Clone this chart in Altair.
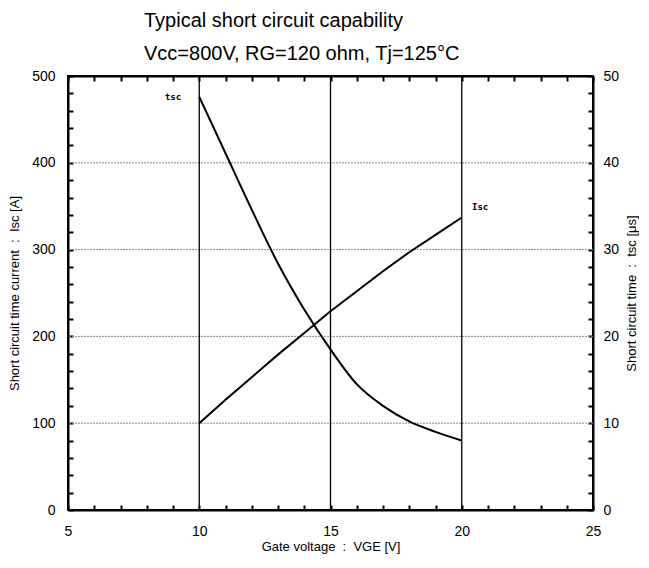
import altair as alt
import pandas as pd

# ---- data ----
vge = [10, 11, 12, 13, 14, 15, 16, 17, 18, 19, 20]
isc_a = [100, 127, 153, 179, 204, 229, 252, 275, 297, 317, 337]
tsc_us = [47.6, 41.1, 34.6, 28.4, 23.1, 18.5, 14.5, 12.0, 10.2, 9.0, 8.0]

curve_labels = ["tsc", "Isc"]
curve_label_x = [9.0, 20.7]
curve_label_y = [476, 349]

grid_x = [10, 15, 20]
grid_y = [100, 200, 300, 400]

x_ticks = list(range(5, 26))
y_left_ticks = list(range(0, 501, 20))
y_right_ticks = list(range(0, 51, 2))

FONT = "Liberation Sans"
NB = "\u00a0"
W, H = 525, 434

df_isc = pd.DataFrame({"v": vge, "i": isc_a})
df_tsc = pd.DataFrame({"v": vge, "t": tsc_us})
df_lab = pd.DataFrame({"lab": curve_labels, "x": curve_label_x, "y": curve_label_y})
df_gx = pd.DataFrame({"gx": grid_x})
df_gy = pd.DataFrame({"gy": grid_y})

xs = alt.Scale(domain=[5, 25], nice=False, zero=False)
ys_left = alt.Scale(domain=[0, 500], nice=False)
ys_right = alt.Scale(domain=[0, 50], nice=False)

common_axis = dict(
    offset=-5, tickSize=5, tickWidth=2, tickColor="black", domain=False, grid=False,
    labelFont=FONT, labelFontSize=14, labelColor="black", labelFlush=False,
    labelOverlap=False, labelBound=False,
    titleFont=FONT, titleFontSize=13, titleFontWeight="normal", titleColor="black",
)


def frame_axis(orient):
    # axis used only to draw one side of the black frame
    return alt.Axis(orient=orient, domain=True, domainColor="black", domainWidth=2,
                    ticks=False, labels=False, grid=False, title=None)


x_bottom = alt.Axis(
    values=x_ticks, orient="bottom", labelExpr="datum.value % 5 == 0 ? datum.label : ''",
    labelPadding=14, title=f"Gate voltage{NB}{NB}:{NB}{NB}VGE [V]", titlePadding=2,
    **common_axis
)
x_top = alt.Axis(
    values=x_ticks, orient="top", labels=False, title=None,
    offset=-5, tickSize=5, tickWidth=2, tickColor="black", domain=False, grid=False,
)
y_left = alt.Axis(
    values=y_left_ticks, orient="left", labelExpr="datum.value % 100 == 0 ? datum.label : ''",
    labelPadding=13, title=f"Short circuit time current{NB}{NB}:{NB}{NB}Isc [A]",
    titlePadding=10, **common_axis
)
y_right = alt.Axis(
    values=y_right_ticks, orient="right", labelExpr="datum.value % 10 == 0 ? datum.label : ''",
    labelPadding=10, title=f"Short circuit time{NB}{NB}:{NB}{NB}tsc [μs]", titlePadding=7,
    titleAngle=270, titleBaseline="top", **common_axis
)

hgrid = alt.Chart(df_gy).mark_rule(color="#8a8a8a", strokeWidth=1, strokeDash=[2, 1]).encode(
    y=alt.Y("gy:Q", scale=ys_left, axis=frame_axis("left"))
)
vgrid = alt.Chart(df_gx).mark_rule(color="black", strokeWidth=1.3).encode(
    x=alt.X("gx:Q", scale=xs, axis=frame_axis("bottom"))
)
isc_line = alt.Chart(df_isc).mark_line(color="black", strokeWidth=2).encode(
    x=alt.X("v:Q", scale=xs, axis=x_bottom),
    y=alt.Y("i:Q", scale=ys_left, axis=y_left),
)
texts = alt.Chart(df_lab).mark_text(
    font="DejaVu Sans Mono", fontSize=9, fontWeight="bold", color="black"
).encode(
    x=alt.X("x:Q", scale=xs, axis=frame_axis("top")),
    y=alt.Y("y:Q", scale=ys_left, axis=frame_axis("right")),
    text="lab:N",
)
tsc_line = alt.Chart(df_tsc).mark_line(color="black", strokeWidth=2, interpolate="monotone").encode(
    x=alt.X("v:Q", scale=xs, axis=x_top),
    y=alt.Y("t:Q", scale=ys_right, axis=y_right),
)

chart = alt.layer(hgrid, vgrid, isc_line, texts, tsc_line).resolve_scale(
    y="independent"
).resolve_axis(x="independent", y="independent").properties(
    width=W,
    height=H,
    background="white",
    padding={"left": 0, "top": 3, "right": 0, "bottom": 4},
    title=alt.TitleParams(
        ["Typical short circuit capability", "Vcc=800V, RG=120 ohm, Tj=125°C"],
        anchor="start", frame="group", dx=76, fontSize=20, lineHeight=33,
        font=FONT, fontWeight="normal", color="black", offset=5,
    ),
).configure_view(stroke="black", strokeWidth=2)

chart.save("out.html", embed_options={"renderer": "svg", "actions": False})
